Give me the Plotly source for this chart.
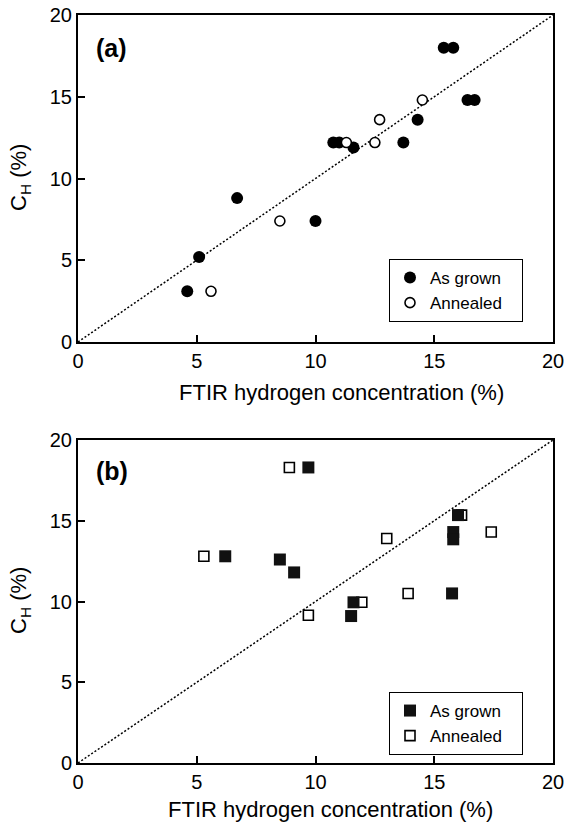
import plotly.graph_objects as go

# ---------------- data ----------------
diag = [0, 20]

a_grown_x = [15.4, 15.8, 16.4, 16.7, 14.3, 13.7, 10.75, 11.0, 11.6, 6.7, 10.0, 5.1, 4.6]
a_grown_y = [18.0, 18.0, 14.8, 14.8, 13.6, 12.2, 12.2, 12.2, 11.9, 8.8, 7.4, 5.2, 3.1]
a_ann_x = [14.5, 12.7, 12.5, 11.3, 8.5, 5.6]
a_ann_y = [14.8, 13.6, 12.2, 12.2, 7.4, 3.1]

b_grown_x = [9.7, 6.2, 8.5, 9.1, 16.0, 15.8, 15.8, 15.75, 11.6, 11.5]
b_grown_y = [18.3, 12.8, 12.6, 11.8, 15.35, 14.3, 13.85, 10.5, 9.95, 9.1]
b_ann_x = [8.9, 5.3, 13.0, 17.4, 16.15, 13.9, 11.95, 9.7]
b_ann_y = [18.3, 12.8, 13.9, 14.3, 15.35, 10.5, 9.95, 9.15]

tick_vals = [0, 5, 10, 15, 20]
tick_text = ["0", "5", "10", "15", "20"]
x_title = "FTIR hydrogen concentration (%)"
y_title = "C<sub>H</sub> (%)"
series_names = ["As grown", "Annealed"]
panel_labels = ["(a)", "(b)"]

FONT = "Liberation Sans, Arial, Helvetica, sans-serif"
W, H = 568, 827
PAD = "\u00a0\u00a0\u00a0"  # widen legend box to the left like the reference

fig = go.Figure()

dotline = dict(color="black", width=1.5, dash="2px,2px")

# panel (a)
fig.add_trace(go.Scatter(x=diag, y=diag, mode="lines", line=dotline,
                         showlegend=False, xaxis="x", yaxis="y", hoverinfo="skip"))
fig.add_trace(go.Scatter(x=a_grown_x, y=a_grown_y, mode="markers", name=series_names[0] + PAD,
                         marker=dict(symbol="circle", size=12, color="black",
                                     line=dict(width=0)),
                         xaxis="x", yaxis="y", legend="legend"))
fig.add_trace(go.Scatter(x=a_ann_x, y=a_ann_y, mode="markers", name=series_names[1] + PAD,
                         marker=dict(symbol="circle", size=10, color="white",
                                     line=dict(width=1.6, color="black")),
                         xaxis="x", yaxis="y", legend="legend"))

# panel (b)
fig.add_trace(go.Scatter(x=diag, y=diag, mode="lines", line=dotline,
                         showlegend=False, xaxis="x2", yaxis="y2", hoverinfo="skip"))
fig.add_trace(go.Scatter(x=b_ann_x, y=b_ann_y, mode="markers", name=series_names[1] + PAD,
                         marker=dict(symbol="square", size=10, color="white",
                                     line=dict(width=1.6, color="black")),
                         xaxis="x2", yaxis="y2", legend="legend2"))
fig.add_trace(go.Scatter(x=b_grown_x, y=b_grown_y, mode="markers", name=series_names[0] + PAD,
                         marker=dict(symbol="square", size=12, color="#111111",
                                     line=dict(width=0)),
                         xaxis="x2", yaxis="y2", legend="legend2"))

xdom = [78 / W, 553 / W]
ydom_a = [1 - 342 / H, 1 - 15 / H]
ydom_b = [1 - 763 / H, 1 - 440 / H]

def xax(anchor):
    return dict(domain=xdom, anchor=anchor, range=[0, 20], tickvals=tick_vals,
                ticktext=tick_text, ticks="inside", ticklen=7, tickwidth=2,
                tickcolor="black", showline=True, linewidth=2, linecolor="black",
                mirror=True, showgrid=False, zeroline=False,
                tickfont=dict(family=FONT, size=20, color="black"),
                ticklabeloverflow="allow", automargin=False, fixedrange=True)

def yax(anchor, dom):
    return dict(domain=dom, anchor=anchor, range=[0, 20], tickvals=tick_vals,
                ticktext=tick_text, ticks="inside", ticklen=7, tickwidth=2,
                tickcolor="black", showline=True, linewidth=2, linecolor="black",
                mirror=True, showgrid=False, zeroline=False,
                tickfont=dict(family=FONT, size=20, color="black"),
                ticklabeloverflow="allow", automargin=False, fixedrange=True)

legend_common = dict(bgcolor="white", bordercolor="black", borderwidth=1,
                     font=dict(family=FONT, size=17, color="black"),
                     xanchor="right", yanchor="top", tracegroupgap=0,
                     itemclick=False, itemdoubleclick=False)

def txt(text, x, y, size, angle=0):
    return dict(text=text, x=x / W, y=1 - y / H, xref="paper", yref="paper",
                xanchor="center", yanchor="middle", textangle=angle,
                showarrow=False, font=dict(family=FONT, size=size, color="black"))

fig.update_layout(
    width=W, height=H,
    margin=dict(l=0, r=0, t=0, b=0),
    paper_bgcolor="white", plot_bgcolor="white",
    font=dict(family=FONT, color="black"),
    xaxis=xax("y"), yaxis=yax("x", ydom_a),
    xaxis2=xax("y2"), yaxis2=yax("x2", ydom_b),
    legend=dict(x=523 / W, y=1 - 259 / H, traceorder="normal", **legend_common),
    legend2=dict(x=523 / W, y=1 - 692 / H, traceorder="reversed", **legend_common),
    annotations=[
        txt("<b>%s</b>" % panel_labels[0], 112, 48, 25),
        txt("<b>%s</b>" % panel_labels[1], 112, 471, 25),
        txt(x_title, 341, 392, 22),
        txt(x_title, 331, 809, 22),
        txt(y_title, 20, 178, 22, -90),
        txt(y_title, 20, 601, 22, -90),
    ],
    showlegend=True,
)

fig.write_html("out.html", config={"displayModeBar": False},
               post_script="document.body.style.margin='0';")
